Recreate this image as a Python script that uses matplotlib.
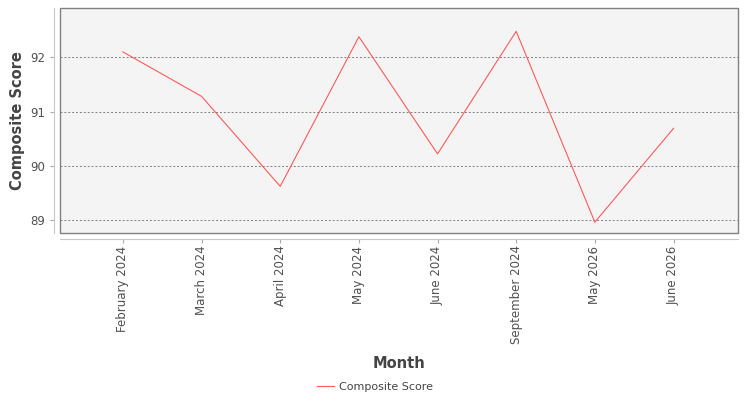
import matplotlib.pyplot as plt
from matplotlib.patches import Rectangle

months = ['February 2024', 'March 2024', 'April 2024', 'May 2024',
          'June 2024', 'September 2024', 'May 2026', 'June 2026']
composite_score = [92.10, 91.28, 89.62, 92.38, 90.22, 92.48, 88.96, 90.69]
y_ticks = [89, 90, 91, 92]

plt.rcParams['font.family'] = ['DejaVu Sans']

fig = plt.figure(figsize=(7.5, 4), dpi=100)
ax = fig.add_axes([0.08, 0.4175, 0.904, 0.5625])
ax.set_facecolor('#f4f4f4')

x = range(len(months))
line, = ax.plot(x, composite_score, color='#ff5a5a', lw=0.8, label='Composite Score')

ax.set_xlim(-0.8, len(months) - 0.18)
ax.set_ylim(88.76, 92.91)
ax.set_yticks(y_ticks)
ax.set_xticks(list(x))
ax.set_xticklabels(months)
ax.tick_params(axis='y', labelsize=8.5, labelcolor='#505050', length=3, color='#aaaaaa')
ax.tick_params(axis='x', labelsize=8.5, labelcolor='#505050', labelrotation=90,
               length=3, color='#aaaaaa', pad=2)

ax.grid(axis='y', color='#808080', ls=(0, (2, 2)), lw=0.7)
ax.set_axisbelow(True)

# frame around the plot area, axis lines offset a few pixels
for s in ['top', 'right']:
    ax.spines[s].set_visible(False)
for s in ['left', 'bottom']:
    ax.spines[s].set_position(('outward', 4))
    ax.spines[s].set_color('#c8c8c8')
ax.add_patch(Rectangle((0, 0), 1, 1, transform=ax.transAxes, fill=False,
                       edgecolor='#808080', lw=1.0, clip_on=False, zorder=5))

ax.set_ylabel('Composite Score', fontsize=10.5, fontweight='bold', color='#444444', labelpad=4)
ax.set_xlabel('Month', fontsize=10.5, fontweight='bold', color='#444444', labelpad=8)

fig.legend(handles=[line], loc='center', bbox_to_anchor=(0.5, 0.032), frameon=False,
           fontsize=8, handlelength=1.5, handletextpad=0.4, labelcolor='#444444')

fig.savefig('out.png', dpi=100)
